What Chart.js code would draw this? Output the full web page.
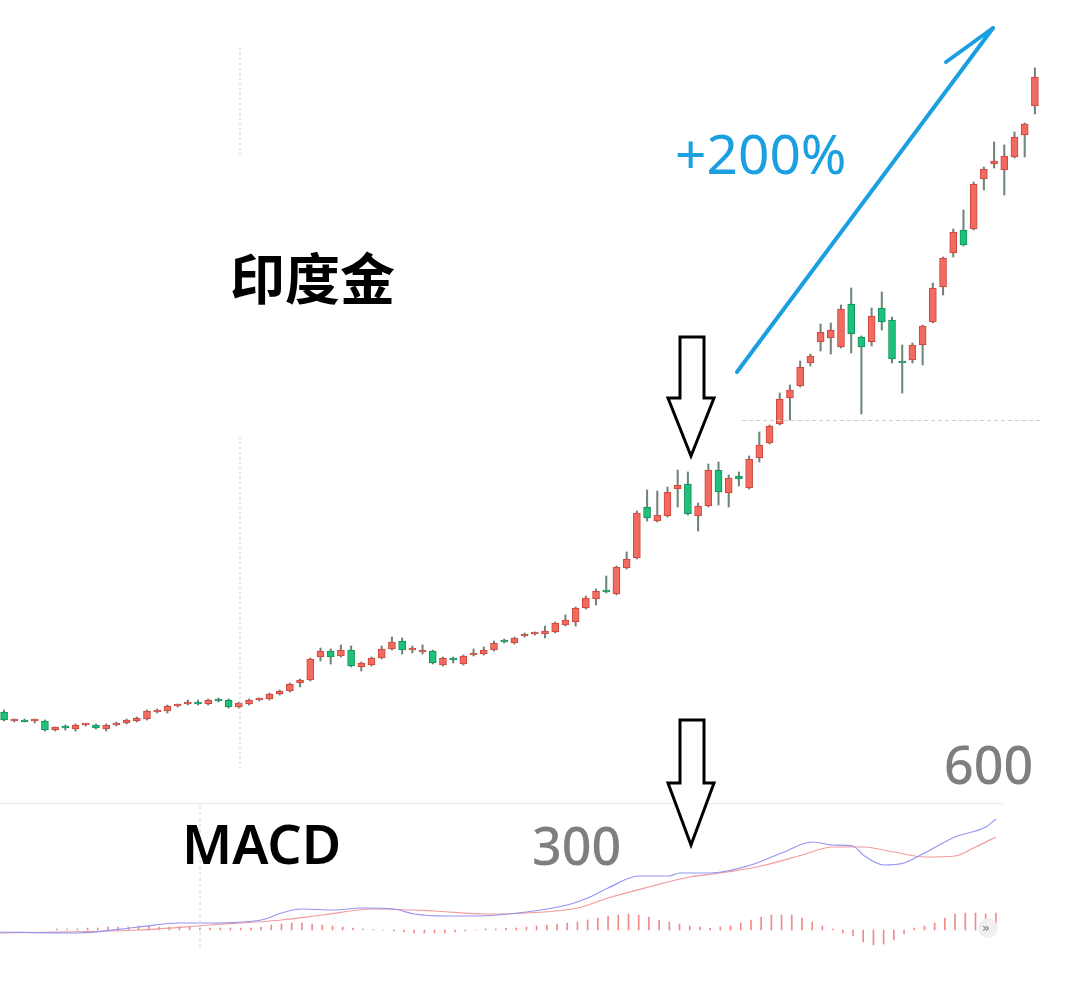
<!DOCTYPE html>
<html>
<head>
<meta charset="utf-8">
<script src="https://cdn.jsdelivr.net/npm/chart.js@4.4.1/dist/chart.umd.min.js"></script>
<style>
  html, body { margin: 0; padding: 0; background: #fff; }
  #wrap { position: relative; width: 1080px; height: 994px; overflow: hidden; background: #fff; }
  #priceBox { position: absolute; left: -1px; top: 0; width: 1041px; height: 800px; }
  #macdBox { position: absolute; left: -40px; top: 800px; width: 1041px; height: 160px; }
  svg { position: absolute; left: 0; top: 0; }
  .txt { position: absolute; white-space: nowrap; line-height: 1; }
</style>
</head>
<body>
<div id="wrap">
  <div id="priceBox"><canvas id="price" width="1041" height="800"></canvas></div>
  <div id="macdBox"><canvas id="macd" width="1041" height="160"></canvas></div>
  <svg width="1080" height="994">
    <line x1="240" y1="48" x2="240" y2="155" stroke="#c8c8c8" stroke-width="1" stroke-dasharray="2,3"/>
    <line x1="240" y1="437" x2="240" y2="768" stroke="#c8c8c8" stroke-width="1" stroke-dasharray="2,3"/>
    <line x1="742" y1="420.5" x2="1042" y2="420.5" stroke="#cfcfcf" stroke-width="1" stroke-dasharray="4,3"/>
    <line x1="0" y1="803.5" x2="1003" y2="803.5" stroke="#e6e6e6" stroke-width="1"/>
    <line x1="200" y1="806" x2="200" y2="948" stroke="#d6d6d6" stroke-width="1" stroke-dasharray="3,3"/>
    <line x1="737" y1="372" x2="993" y2="28" stroke="#1a9fe0" stroke-width="4" stroke-linecap="round"/>
    <line x1="946" y1="62" x2="993" y2="28" stroke="#1a9fe0" stroke-width="4" stroke-linecap="round"/>
    <path d="M680,337 L704,337 L704,398 L714,398 L691,456 L668,398 L680,398 Z" fill="#fff" stroke="#000" stroke-width="3" stroke-linejoin="miter"/>
    <path d="M680,720 L704,720 L704,783 L714,783 L691,845 L668,783 L680,783 Z" fill="#fff" stroke="#000" stroke-width="3" stroke-linejoin="miter"/>
    <circle cx="988" cy="928" r="10" fill="#f0f0f0"/>
  </svg>
  <div class="txt" style="left:230px;top:235px;font:700 55px 'Noto Sans CJK SC';color:#000;">印度金</div>
  <div class="txt" style="left:675px;top:115px;font:400 55px 'Noto Sans';color:#1a9fe0;">+200%</div>
  <div class="txt" style="left:944px;top:728px;font:500 52px 'Noto Sans';color:#7f7f7f;">600</div>
  <div class="txt" style="left:532px;top:809px;font:500 52px 'Noto Sans';color:#7f7f7f;">300</div>
  <div class="txt" style="left:182px;top:806px;font:600 54px 'Noto Sans';color:#000;">MACD</div>
  <div class="txt" style="left:982px;top:920px;font:400 13px 'DejaVu Sans';color:#777;">»</div>
</div>
<script>
// daily candles (open / high / low / close)
const opens = [288,279,280,279,279,270,273,271,275,275,271,275,277,279,281,288,289,294,296,298,296,300,300,293,296,300,301,306,309,317,320,343,349,344,350,333,335,342,351,359,350,348,349,335,342,336,345,346,350,359,357,364,366,366,368,375,378,392,401,409,406,432,442,493,479,484,511,516,484,494,530,507,524,512,542,557,576,602,614,637,658,662,653,696,663,658,692,680,639,640,655,678,713,747,770,771,821,836,830,843,865,894];
const highs = [290,281,281,281,280,273,275,276,276,276,276,278,281,283,290,291,295,296,300,300,301,302,301,298,301,302,307,310,317,321,342,352,351,355,354,338,343,354,363,362,354,355,350,343,343,345,351,353,359,361,363,367,368,374,378,385,393,404,411,424,434,448,489,510,509,513,530,528,497,536,538,525,528,544,568,575,607,615,639,646,676,677,695,712,664,692,708,683,655,657,675,717,743,771,790,818,833,858,855,868,877,932];
const lows = [279,278,278,277,269,269,270,269,274,271,269,274,276,278,280,287,287,293,295,295,295,298,292,292,295,299,300,305,308,313,319,339,336,343,333,329,334,341,350,346,347,346,336,334,337,335,344,345,349,357,356,363,365,362,367,374,374,391,395,407,405,431,441,479,478,483,493,485,469,493,495,493,514,511,538,556,575,580,613,634,649,646,652,647,586,654,670,637,607,637,635,677,705,743,754,770,810,832,805,842,843,886];
const closes = [280,281,278,279,270,273,272,275,275,272,275,277,280,282,289,290,294,295,298,296,300,299,293,297,300,301,306,309,316,320,341,349,343,350,334,337,342,351,358,350,351,350,337,342,340,344,347,350,357,358,362,366,367,369,377,380,392,402,409,408,433,441,487,482,485,508,515,486,494,530,508,522,521,541,555,574,601,610,633,644,668,670,691,666,653,684,678,641,637,655,674,712,742,768,755,816,831,839,844,863,876,923];

// MACD pane: DIF (blue) and DEA (red) read at these candle numbers
const difDays = [4,12,18,22,25,30,32,34,37,40,43,45,48,51,56,60,62,64,67,70,71,74,78,81,84,86,88,89,91,93,95,98,101,102];
const difVals = [-0.2,-0.3,0.3,0.7,0.7,1.0,1.7,2.1,2.0,2.2,2.1,1.6,1.4,1.4,1.8,2.5,3.2,4.2,5.4,5.4,5.7,5.7,6.5,7.7,8.8,8.5,8.4,7.5,6.5,6.7,7.7,9.3,10.3,11.1];
const deaDays = [4,18,25,32,36,41,47,52,56,61,64,68,72,75,79,83,86,89,92,95,98,100,102];
const deaVals = [-0.3,0.0,0.5,1.0,1.5,2.1,1.9,1.6,1.7,2.2,3.2,4.3,5.3,5.7,6.4,7.5,8.3,8.3,7.8,7.3,7.4,8.3,9.3];
// histogram, one bar per candle from candle 10 on
const histStart = 10;
const histVals = [0.1,0.1,0.1,0.2,0.2,0.3,0.3,0.3,0.4,0.4,
  0.3,0.3,0.3,0.3,0.2,0.2,0.2,0.2,0.2,0.2,
  0.3,0.5,0.6,0.7,0.7,0.6,0.5,0.4,0.3,0.2,
  0.1,0.05,0,-0.1,-0.2,-0.3,-0.3,-0.3,-0.3,-0.2,
  -0.1,0,0.1,0.1,0.2,0.2,0.3,0.4,0.5,0.6,
  0.7,0.8,1.0,1.2,1.4,1.5,1.6,1.5,1.3,1.0,
  0.8,0.6,0.4,0.3,0.2,0.3,0.4,0.7,1.0,1.3,
  1.5,1.5,1.5,1.2,0.8,0.4,0.1,-0.3,-0.6,-1.2,
  -1.5,-1.4,-1.0,-0.4,0.2,0.4,0.7,1.2,1.6,1.7,
  1.7,1.6,1.7];

const UP = '#f26a60', UP_EDGE = '#c8453c';
const DOWN = '#1fc07a', DOWN_EDGE = '#11905a';
const WICK = '#6f857a';

const days = opens.map((_, i) => i + 1);
const isDown = opens.map((o, i) => closes[i] < o);

new Chart(document.getElementById('price'), {
    type: 'bar',
    data: {
        labels: days,
        datasets: [
            {
                label: 'body',
                data: opens.map((o, i) => [o, closes[i]]),
                backgroundColor: isDown.map(d => d ? DOWN : UP),
                borderColor: isDown.map(d => d ? DOWN_EDGE : UP_EDGE),
                borderWidth: 1,
                borderSkipped: false,
                barThickness: 7,
                minBarLength: 2,
                grouped: false,
                order: 0
            },
            {
                label: 'wick',
                data: lows.map((l, i) => [l, highs[i]]),
                backgroundColor: WICK,
                borderWidth: 0,
                barThickness: 1.4,
                grouped: false,
                order: 1
            }
        ]
    },
    options: {
        responsive: false,
        animation: false,
        layout: { padding: 0 },
        plugins: { legend: { display: false }, tooltip: { enabled: false } },
        scales: {
            x: { display: false, offset: true },
            y: { display: false, min: 200, max: 1000 }
        }
    }
});

new Chart(document.getElementById('macd'), {
    type: 'line',
    data: {
        datasets: [
            {
                label: 'DIF',
                data: difDays.map((d, i) => ({ x: d, y: difVals[i] })),
                borderColor: '#9494f2',
                borderWidth: 1.2,
                pointRadius: 0,
                cubicInterpolationMode: 'monotone',
                order: 0
            },
            {
                label: 'DEA',
                data: deaDays.map((d, i) => ({ x: d, y: deaVals[i] })),
                borderColor: '#f29c9c',
                borderWidth: 1.2,
                pointRadius: 0,
                cubicInterpolationMode: 'monotone',
                order: 1
            },
            {
                type: 'bar',
                label: 'MACD',
                data: histVals.map((v, i) => ({ x: histStart + i, y: v })),
                backgroundColor: '#f08c8c',
                barThickness: 1,
                order: 2
            }
        ]
    },
    options: {
        responsive: false,
        animation: false,
        layout: { padding: 0 },
        plugins: { legend: { display: false }, tooltip: { enabled: false } },
        scales: {
            x: { type: 'linear', display: false, offset: false, min: 0.5, max: 102.5 },
            y: { display: false, min: -3, max: 13 }
        }
    }
});
</script>
</body>
</html>
